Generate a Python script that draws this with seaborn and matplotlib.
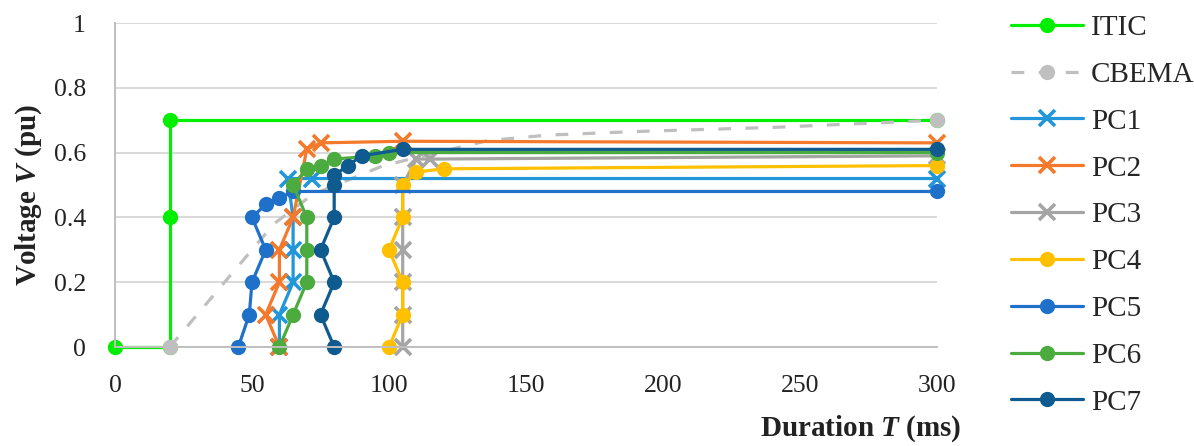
import matplotlib
matplotlib.use("Agg")
import matplotlib.pyplot as plt
import seaborn as sns

# ---- data ----
ITIC_T = [0, 20, 20, 20, 300]
ITIC_V = [0, 0, 0.4, 0.7, 0.7]

CBEMA_T = [20, 40, 58, 72, 98, 136, 158, 190, 241, 300]
CBEMA_V = [0, 0.2, 0.38, 0.47, 0.56, 0.637, 0.654, 0.665, 0.678, 0.7]

PC1_T = [60, 60, 65, 65, 65, 63, 72, 300]
PC1_V = [0, 0.1, 0.2, 0.3, 0.4, 0.52, 0.52, 0.52]

PC2_T = [60, 55, 60, 60, 65, 70, 75, 105, 300]
PC2_V = [0, 0.1, 0.2, 0.3, 0.4, 0.61, 0.63, 0.635, 0.63]

PC3_T = [105, 105, 105, 105, 105, 105, 110, 115, 300]
PC3_V = [0, 0.1, 0.2, 0.3, 0.4, 0.5, 0.58, 0.58, 0.59]

PC4_T = [100, 105, 105, 100, 105, 105, 110, 120, 300]
PC4_V = [0, 0.1, 0.2, 0.3, 0.4, 0.5, 0.54, 0.55, 0.56]

PC5_T = [45, 49, 50, 55, 50, 55, 60, 65, 300]
PC5_V = [0, 0.1, 0.2, 0.3, 0.4, 0.44, 0.46, 0.48, 0.48]

PC6_T = [60, 65, 70, 70, 70, 65, 70, 75, 80, 95, 100, 300]
PC6_V = [0, 0.1, 0.2, 0.3, 0.4, 0.5, 0.55, 0.56, 0.58, 0.59, 0.6, 0.6]

PC7_T = [80, 75, 80, 75, 80, 80, 80, 85, 90, 105, 300]
PC7_V = [0, 0.1, 0.2, 0.3, 0.4, 0.5, 0.53, 0.56, 0.59, 0.61, 0.61]

X_TICKS = [0, 50, 100, 150, 200, 250, 300]
Y_TICKS = [0, 0.2, 0.4, 0.6, 0.8, 1]
Y_TICK_LABELS = ["0", "0.2", "0.4", "0.6", "0.8", "1"]

SERIES = [
    ("ITIC", ITIC_T, ITIC_V, "#00EE00", "o"),
    ("CBEMA", CBEMA_T, CBEMA_V, "#BFBFBF", "o"),
    ("PC1", PC1_T, PC1_V, "#2396DA", "x"),
    ("PC2", PC2_T, PC2_V, "#F5792A", "x"),
    ("PC3", PC3_T, PC3_V, "#A5A5A5", "x"),
    ("PC4", PC4_T, PC4_V, "#FFC000", "o"),
    ("PC5", PC5_T, PC5_V, "#1F70C8", "o"),
    ("PC6", PC6_T, PC6_V, "#4CAB3F", "o"),
    ("PC7", PC7_T, PC7_V, "#0F5A8E", "o"),
]

sns.set_theme(style="white")
plt.rcParams["font.family"] = ["Liberation Serif", "DejaVu Serif"]
plt.rcParams["mathtext.fontset"] = "custom"
plt.rcParams["mathtext.it"] = "Liberation Serif:bold:italic"
plt.rcParams["mathtext.rm"] = "Liberation Serif:bold"

fig = plt.figure(figsize=(11.94, 4.46), dpi=100)
ax = fig.add_axes([115 / 1194, 1 - 347 / 446, (937 - 115) / 1194, (347 - 23) / 446])

for name, t, v, col, mk in SERIES:
    kw = dict(color=col, linewidth=2.3, marker=mk, markersize=11 if mk == "o" else 11.5,
              markeredgewidth=0 if mk == "o" else 2.6, markeredgecolor=col,
              markerfacecolor=col, label=name, clip_on=False)
    if name == "CBEMA":
        kw["dashes"] = (4, 4.5)
        kw["markevery"] = [0, len(t) - 1]
    sns.lineplot(x=t, y=v, sort=False, estimator=None, ax=ax, legend=False, **kw)

ax.set_xlim(0, 300)
ax.set_ylim(0, 1)
ax.set_xticks(X_TICKS)
ax.set_yticks(Y_TICKS)
ax.set_yticklabels(Y_TICK_LABELS)
ax.yaxis.grid(True, color="#D9D9D9", linewidth=1.4)
ax.xaxis.grid(False)
ax.set_axisbelow(True)
for s in ["top", "right"]:
    ax.spines[s].set_visible(False)
ax.spines["left"].set_color("#BFBFBF")
ax.spines["left"].set_linewidth(1.4)
ax.spines["bottom"].set_color("#BFBFBF")
ax.spines["bottom"].set_linewidth(1.4)
ax.tick_params(axis="both", length=0, labelsize=18.5, colors="#222222")
ax.tick_params(axis="x", pad=20)
ax.tick_params(axis="y", pad=21)

ax.set_xlabel("")
ax.set_ylabel("")
fig.text(29 / 1194, 1 - 195 / 446, r"Voltage $V$ (pu)", rotation=90, ha="center",
         va="center", fontsize=21, fontweight="bold", color="#222222")
fig.text(961 / 1194, 1 - 429 / 446, r"Duration $T$ (ms)", ha="right", va="center",
         fontsize=21, fontweight="bold", color="#222222")

handles, labels = ax.get_legend_handles_labels()
fig.legend(handles, labels, loc="upper left", bbox_to_anchor=(996 / 1194, 1.0),
           frameon=False, fontsize=21, handlelength=2.5, labelspacing=0.7,
           handletextpad=0.25, borderaxespad=0.1)

fig.savefig("out.png", dpi=100)
